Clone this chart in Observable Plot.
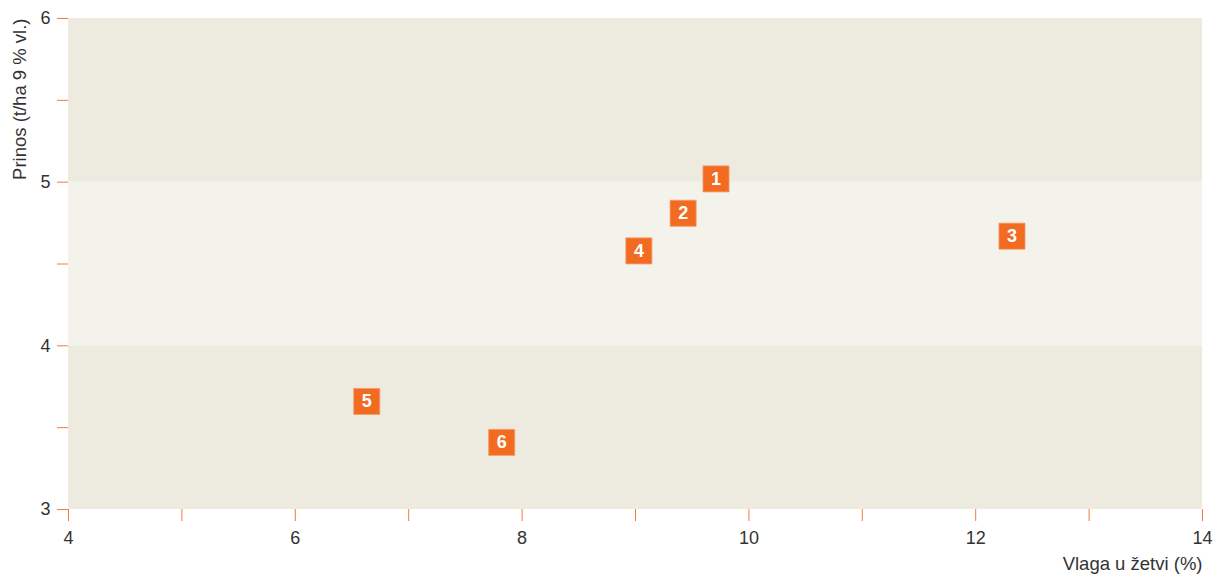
<!DOCTYPE html>
<html>
<head>
<meta charset="utf-8">
<script src="https://cdn.jsdelivr.net/npm/d3@7"></script>
<script src="https://cdn.jsdelivr.net/npm/@observablehq/plot@0.6"></script>
<style>
  html, body { margin: 0; padding: 0; background: #fff; }
  svg { display: block; }
</style>
</head>
<body>
<div id="chart"></div>
<script>
const labels = ["1", "2", "3", "4", "5", "6"];
const moisture = [9.71, 9.42, 12.32, 9.03, 6.63, 7.82];
const yieldT = [5.02, 4.81, 4.67, 4.58, 3.66, 3.41];

const bandLow = [3, 4, 5];
const bandHigh = [4, 5, 6];
const bandColors = ["#edeadf", "#f4f3eb", "#edeadf"];

const xTicks = [4, 5, 6, 7, 8, 9, 10, 11, 12, 13, 14];
const yTicks = [3, 3.5, 4, 4.5, 5, 5.5, 6];
const xTickLabels = [4, 6, 8, 10, 12, 14];
const yTickLabels = [3, 4, 5, 6];
const xLabel = "Vlaga u žetvi (%)";
const yLabel = "Prinos (t/ha 9 % vl.)";

const points = labels.map((l, i) => ({label: l, x: moisture[i], y: yieldT[i]}));
const bands = bandLow.map((lo, i) => ({lo, hi: bandHigh[i], color: bandColors[i]}));

const font = "'Liberation Sans', Arial, Helvetica, sans-serif";

const chart = Plot.plot({
  width: 1214,
  height: 576,
  marginLeft: 68,
  marginRight: 12,
  marginTop: 18,
  marginBottom: 67,
  style: {fontFamily: font, fontSize: "18px", color: "#333"},
  x: {domain: [4, 14]},
  y: {domain: [3, 6]},
  marks: [
    Plot.rect(bands, {x1: 4, x2: 14, y1: "lo", y2: "hi", fill: "color"}),
    Plot.axisY({ticks: yTicks, tickSize: 11, stroke: "#f27a40", tickFormat: () => "", label: null}),
    Plot.axisX({ticks: xTicks, tickSize: 12, stroke: "#f27a40", tickFormat: () => "", label: null}),
    Plot.text(yTickLabels, {y: d => d, frameAnchor: "left", dx: -18, textAnchor: "end", lineAnchor: "middle", fontSize: 18, fill: "#333", text: d => String(d)}),
    Plot.text(xTickLabels, {x: d => d, frameAnchor: "bottom", dy: 29, textAnchor: "middle", lineAnchor: "middle", fontSize: 18, fill: "#333", text: d => String(d)}),
    Plot.text([yLabel], {frameAnchor: "top-left", dx: -48, rotate: -90, textAnchor: "end", lineAnchor: "middle", fontSize: 18.5, fill: "#333"}),
    Plot.text([xLabel], {frameAnchor: "bottom-right", dy: 55, textAnchor: "end", lineAnchor: "middle", fontSize: 18.5, fill: "#333"}),
    Plot.dot(points, {x: "x", y: "y", symbol: "square", r: 14.7, fill: "#f26b21", stroke: "#f59a6a", strokeWidth: 0.8}),
    Plot.text(points, {x: "x", y: "y", text: "label", fill: "white", fontWeight: "bold", fontSize: 18})
  ]
});
document.getElementById("chart").appendChild(chart);
</script>
</body>
</html>
